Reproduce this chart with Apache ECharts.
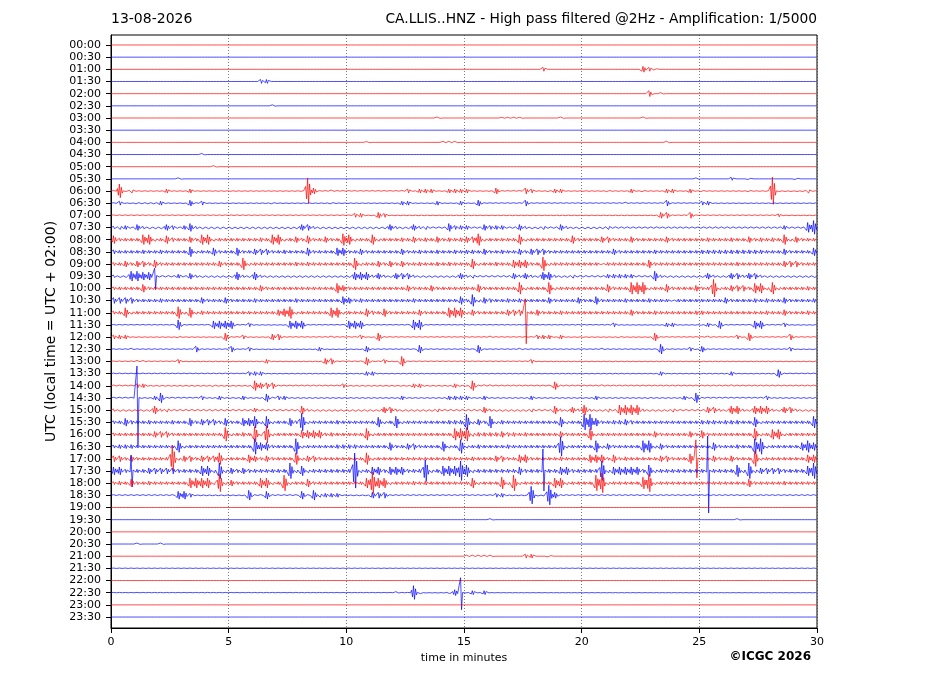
<!DOCTYPE html>
<html><head><meta charset="utf-8">
<script src="https://cdn.jsdelivr.net/npm/echarts@6/dist/echarts.min.js"></script>
<style>html,body{margin:0;padding:0;background:#fff}#c{width:927px;height:696px}</style>
</head><body><div id="c"></div>
<script>
// Tick labels of the 48 half-hour traces (top to bottom)
const timeLabels = ["00:00","00:30","01:00","01:30","02:00","02:30","03:00","03:30","04:00","04:30","05:00","05:30",
  "06:00","06:30","07:00","07:30","08:00","08:30","09:00","09:30","10:00","10:30","11:00","11:30",
  "12:00","12:30","13:00","13:30","14:00","14:30","15:00","15:30","16:00","16:30","17:00","17:30",
  "18:00","18:30","19:00","19:30","20:00","20:30","21:00","21:30","22:00","22:30","23:00","23:30"];
const xTicks = [0, 5, 10, 15, 20, 25, 30];
const traceColors = ["#ff0000", "#0000ff"];
// Background noise half-amplitude of each trace (px)
const noise = [0,0,0,0,0,0,0,0,0,0,0,0, 0.5,0.5,0.5,1.2,1.5,1.5,1.5,1.2,1.5,1.5,1.5,0.5,
  0.5,0.5,0.5,0.5,0.7,0.7,1.2,1.5,1.5,1.5,1.5,1.8, 1.5,0.7,0,0,0,0,0,0.3,0,0.3,0,0];
// Envelope half-amplitude (px) read per quarter-minute bin: "bin:amp" or "from-to:amp"
const events = [
  "", "", "73:2 90:3 91:2 92:1", "25:2 26:2", "91:3 93:1", "27:1", "55:1 66-69:0.7 76:1 90:1", "",
  "43:0.7 56-58:1 94:1", "15:1", "17:1", "11:1 99:1 105:1.5 108:1 116:1",
  "1:7 3:2 9:2 13:2 33:13 34:3 37:1 50:2 52:2 53:2 54:2 57:2 58:2 59:2 60:2 65:3 70:3 71:2 74:1 75:2 76:2 84:1 88:2 90:1 94:2 95:2 98:2 100:1 108:1 112:14 118:2",
  "1:2 4-7:1 8:2 13:3 15:2 27:1 37:1 49:2 50:2 55:2 59:2 62:3 70:3 87:1 94:3 100:2 101:2",
  "41:2 42:2 45:3 46:2 93:3 94:3 98:3 113:1.5",
  "1-2:2 4:3 9:3 10:2 12:2 13:4 32-33:3 47:3 51:3 53:2 57:4 58-60:2 63:3 64-66:2 69:3 73:2 76:3 78:1 84:2 93:1 99:1 109:1 114:2 118:5 119:7",
  "0:4 5-6:5 9:4 10:2 13:3 15-16:5 25:2 27-28:5 31:3 33:4 36:3 39:6 40:5 44:5 49:2 51:3 53:2 55:3 57:2 59:2 60-61:3 62:6 69:5 78:4 83-84:3 88:3 94:3 101:2 105:2 108:3 110:2 112:2 114:5 116:3",
  "0:2 5:2 8:2 13:5 17:4 21:4 24-26:3 29:2 33:4 38-39:4 42:3 49:3 52:2 55:2 58:2 60-61:2 63:3 66:2 69:3 71-73:3 85:3 92:2 100-110:2 114:3 119:4",
  "2:3 4-5:3 7:4 18:3 22:6 31:2 33:2 41:6 45:3 47:3 49:3 52:2 55:2 57:2 61:5 65:2 68-70:4 73:7 83:1 91:4 106:2 114-116:3",
  "3-4:5 5-6:4 11:2 13:3 21:4 24:4 41-43:4 45:3 48-50:3 59:3 61:2 68:3 70:3 73-74:4 78:2 84-88:2 92:5 101:3 105-106:3 108-109:3",
  "5:4 25:3 38:5 39:3 50:3 54:3 62:4 69:6 74:6 84:4 88-90:6 94:4 99:3 102:9 105-107:3 109-110:5 112:6 118:2",
  "0-3:3 8:2 15:3 19:3 24:2 31:2 39:4 40:3 42:2 51:2 59:4 61:6 63:3 64:2 67:2 69:2 74:3 79:3 82:4 87:2 91:2 95:1 104:3 109:2 111:2 114:3 119:2",
  "2:5 11:6 13:5 15:2 28:3 29:4 30:6 37:5 38:5 43:4 44:2 46:4 52:3 57-59:5 61:3 67-69:3 72:3 76:2 88:3 92:2 99-100:2 111:2 114:3 118:2",
  "11:5 17-20:4 23:2 30-32:4 40-42:4 51-52:5 85:2 94-95:2 101:2 103:4 109-110:4 114:2",
  "0-2:2 11:1 19:4 22:2 27-28:3 37:1 42:2 45:4 64:1 72-74:2 76:2 86:1 92:4 101:1 106:2 108:4 115:3",
  "3:1 14:3 20:3 23:2 35:2 43:3 52:4 62:4 69:1 83:1 93:5 98:2 100:3 115:2",
  "4-5:1 11:2 26:2 36-37:3 43:4 46:2 49:5 71:2",
  "23-25:2 43-44:2 93:2 105:2 113:4",
  "4-5:2 17:1 24:5 25-27:3 39:2 51-52:2 58:2 61:5 63-64:1 75:4 83:1 105:1",
  "7:2 8:5 15:2 18:2 22:2 26:4 28-29:2 49:2 57-60:2 63:2 71:2 82:2 91:1 97:2 99:5 111:2",
  "7:4 9:2 24:2 32:4 46-47:3 55:2 63:3 71:2 75:4 78:3 80:5 84:2 86-89:5 95:2 101-102:3 105-106:4 109-111:4 114-115:3",
  "2:4 3:2 6:2 10:2 13:4 15-17:3 19:4 22-23:4 24:6 26:6 30:4 32:9 38:2 45:5 48:6 57-59:2 60:8 62:3 64:6 66:2 76:5 80-81:8 82:4 85-88:2 87:3 100-102:2 104-106:2 109:5 119:6",
  "7-9:3 19:7 22:2 24:8 26:9 32-35:4 37:2 43:6 58-59:6 60:7 61-68:2 66:3 70:2 76:3 81:6 92:3 98:3 100:4 109:6 112-113:5",
  "1-3:2 11:6 24:8 25-26:4 31:8 38-41:2 47:4 50-51:3 56:5 59:7 62:2 67:2 76:10 82:6 84:3 90-91:6 93:3 102:4 106:2 109-110:8 117:4 118:6 119:4",
  "0-1:3 3:3 10:13 12-13:3 15-17:3 18:6 23:4 24:3 26:3 31:6 33-34:3 43:6 57:2 61:2 65-66:3 69-70:4 76:2 81-83:4 85:4 87:2 93-94:3 98:5 102:3 105:3 109:8 118-119:4",
  "0-1:4 6-9:3 10:3 15-16:5 18:8 20:3 22:3 30:8 32:5 41:18 44-45:4 47-49:4 53:11 56-58:5 59:10 60:6 69:4 76-77:4 83:10 85-89:4 91:6 106:6 108:8 110-113:3 118:5 119:8",
  "1:2 3:4 6:2 13-16:5 18:9 20:3 25-26:5 29:8 33:4 43-46:5 44:11 51:2 53:2 61:5 66:6 68:8 75-76:5 82:8 83:10 90:6 91:9 108:4 114:2",
  "11-12:4 13:2 23:5 26:4 32:4 34:5 35-38:2 44:3 45-46:3 65-66:2 71:9 74:10 75:3",
  "", "64:1 106:1", "", "4:1 8:1", "60-64:1 70-71:2 74:1", "", "",
  "48:1 51:7 52:1 57:1 58:3 61:2 63:2", "", ""
];
// Large asymmetric excursions: [trace, bin, up px, down px]
const spikes = [[19,7,8,13],[22,70,14,31],[29,4,32,48],[34,99,19,19],[35,3,16,16],[35,73,22,20],[35,101,35,42],[45,59,15,17]];

const BINS = 120, BIN_MIN = 0.25;
// drawing glyph of one bin: relative excursions of the wiggle (peaking at the bin centre)
const WIGGLE = [-0.35, 0.6, -1, 0.95, -0.55, 0.3];
const GRID_H = 593, Y_MIN = -0.82, Y_MAX = 47.9;
const PX_PER_UNIT = GRID_H / (Y_MAX - Y_MIN);

function profile(i) {
  const a = new Array(BINS).fill(noise[i]);
  events[i].split(/\s+/).filter(Boolean).forEach(tok => {
    const [r, v] = tok.split(':');
    const parts = r.split('-').map(Number);
    const s = parts[0], e = parts.length > 1 ? parts[1] : parts[0];
    for (let b = s; b <= e; b++) a[b] = Number(v);
  });
  return a;
}

const SUB = WIGGLE.length;
const series = timeLabels.map((lab, i) => {
  const amp = profile(i);
  const sp = {};
  spikes.filter(s => s[0] === i).forEach(s => { sp[s[1]] = [s[2], s[3]]; });
  const data = [[0, i]];
  for (let b = 0; b < BINS; b++) {
    for (let j = 0; j < SUB; j++) {
      let off;
      if (sp[b] && j === 2) off = -sp[b][0];
      else if (sp[b] && j === 3) off = sp[b][1];
      else off = WIGGLE[j] * amp[b];
      data.push([(b + (j + 0.5) / SUB) * BIN_MIN, i + off / PX_PER_UNIT]);
    }
  }
  data.push([30, i]);
  return {
    type: 'line', name: lab, data, showSymbol: false, symbol: 'none',
    lineStyle: { color: traceColors[i % 2], width: 0.7 },
    animation: false, silent: true, z: 3
  };
});

const idx = timeLabels.map((_, i) => i);
const chart = echarts.init(document.getElementById('c'), null, { renderer: 'canvas' });
chart.setOption({
  animation: false,
  textStyle: { fontFamily: 'DejaVu Sans', color: '#000' },
  grid: { left: 111, right: 110, top: 35, bottom: 68, show: true, borderColor: '#000', borderWidth: 1, backgroundColor: 'transparent' },
  xAxis: {
    type: 'value', min: 0, max: 30, interval: 5,
    axisLine: { show: true, onZero: false, lineStyle: { color: '#000', width: 1 } },
    axisTick: { show: true, length: 5, lineStyle: { color: '#000' } },
    axisLabel: { fontSize: 11, color: '#000', margin: 9, formatter: v => String(v), customValues: xTicks },
    splitLine: { show: true, lineStyle: { color: '#444', width: 0.7, type: [1, 2] } },
    name: 'time in minutes', nameLocation: 'middle', nameGap: 24,
    nameTextStyle: { fontSize: 11, color: '#000' }
  },
  yAxis: {
    type: 'value', inverse: true, min: Y_MIN, max: Y_MAX,
    axisLine: { show: true, onZero: false, lineStyle: { color: '#000', width: 1 } },
    axisTick: { show: true, length: 5, customValues: idx, lineStyle: { color: '#000' } },
    axisLabel: { fontSize: 11, color: '#000', margin: 10, customValues: idx, formatter: v => timeLabels[Math.round(v)] },
    splitLine: { show: false },
    name: 'UTC (local time = UTC + 02:00)', nameLocation: 'middle', nameGap: 40, nameRotate: 90,
    nameTextStyle: { fontSize: 14, color: '#000' }
  },
  graphic: [
    { type: 'text', left: 111, top: 12, style: { text: '13-08-2026', fontSize: 14, fontFamily: 'DejaVu Sans', fill: '#000' } },
    { type: 'text', right: 110, top: 12, style: { text: 'CA.LLIS..HNZ - High pass filtered @2Hz - Amplification: 1/5000', fontSize: 13.8, fontFamily: 'DejaVu Sans', fill: '#000' } },
    { type: 'text', right: 116, top: 651, style: { text: '©ICGC 2026', fontSize: 12, fontWeight: 'bold', fontFamily: 'DejaVu Sans', fill: '#000' } }
  ],
  series
});
</script></body></html>
